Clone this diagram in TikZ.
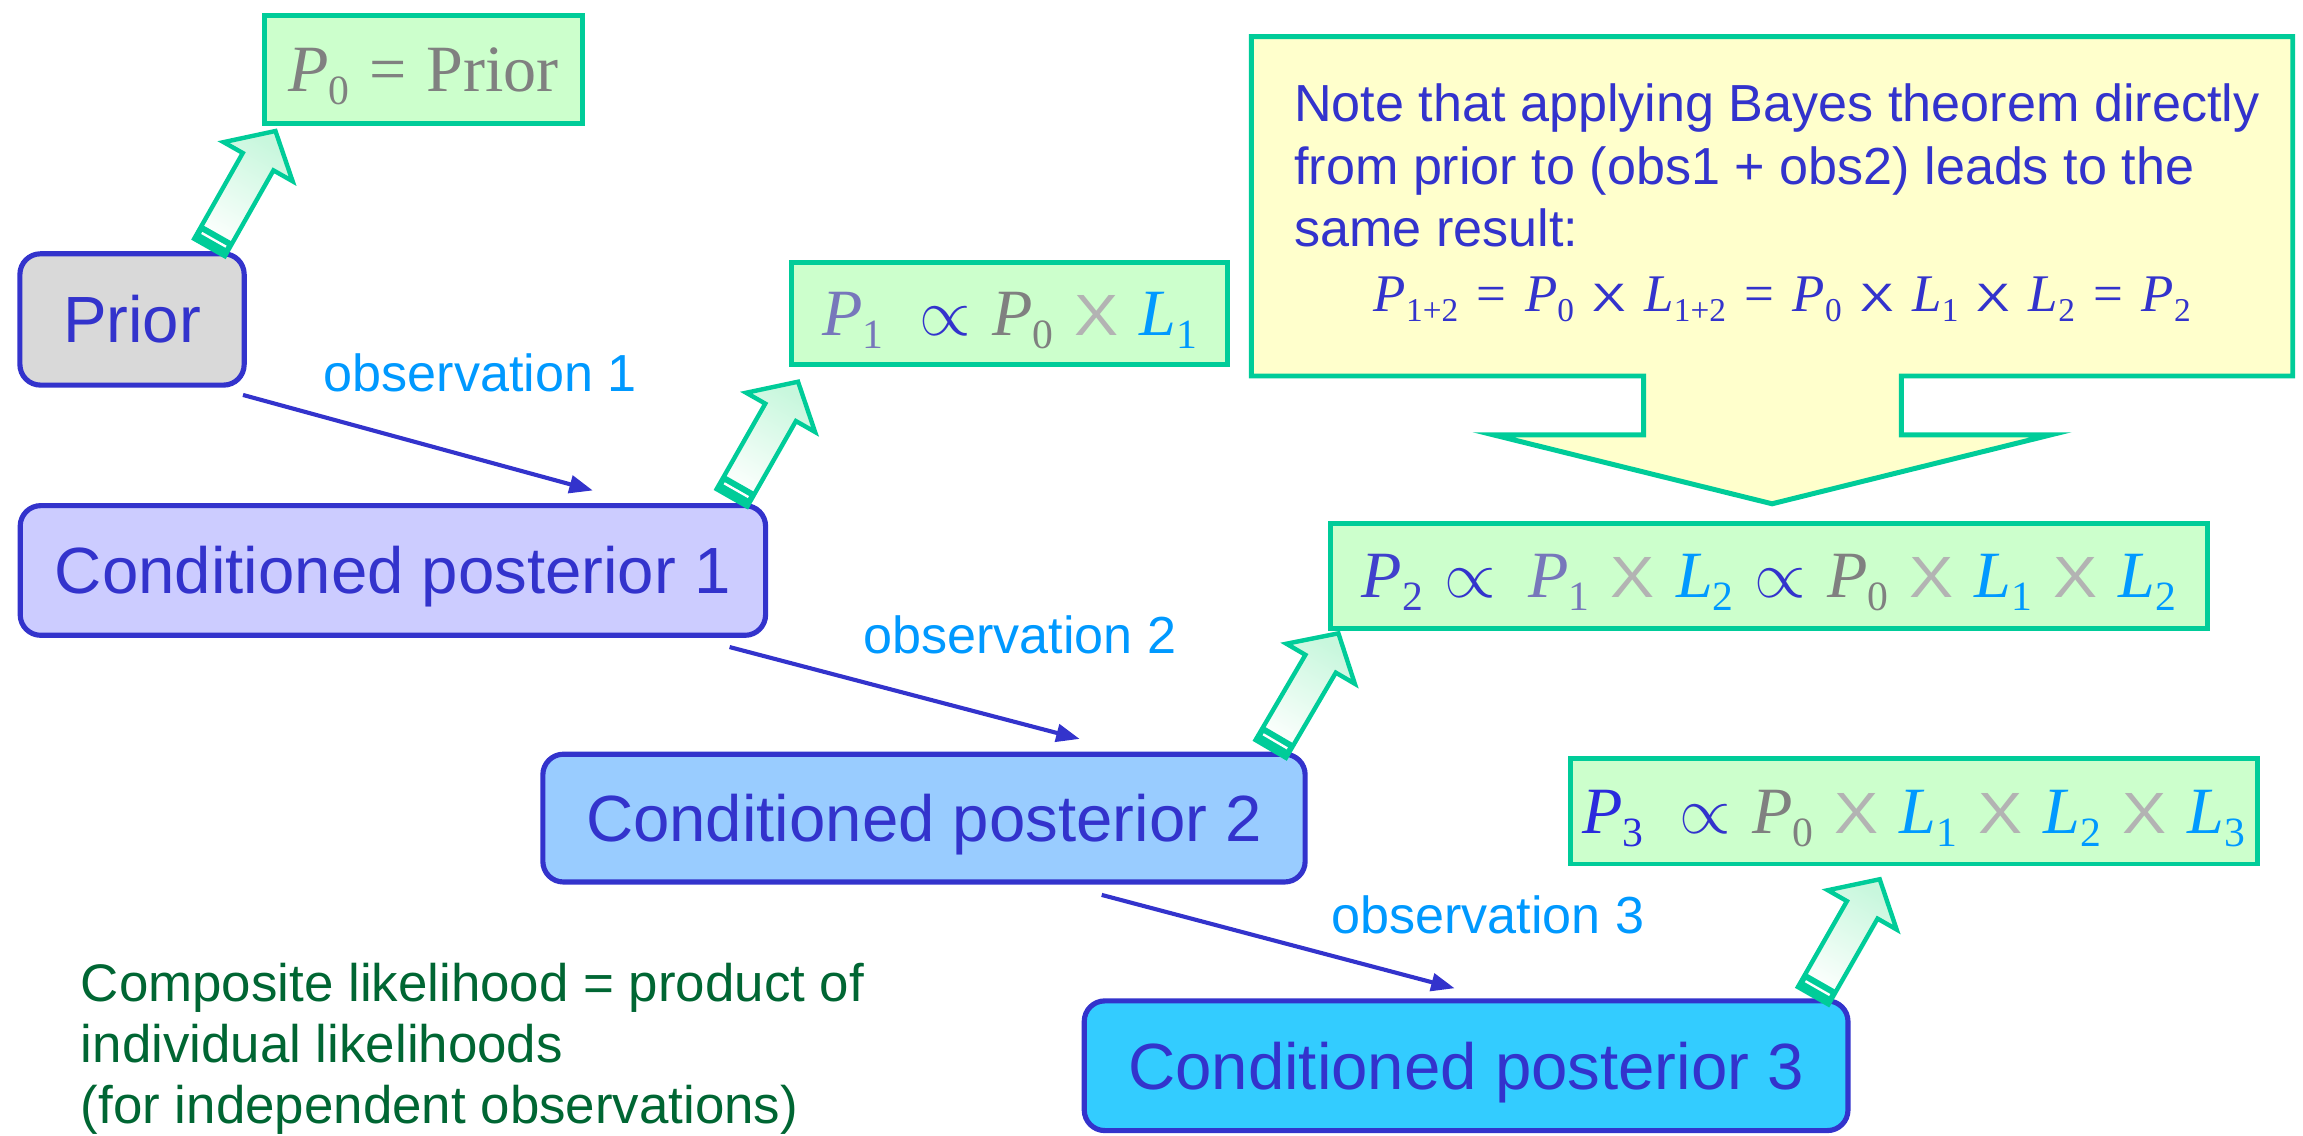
\RequirePackage{fix-cm}
\documentclass[tikz,border=0pt]{standalone}
\usepackage{fontspec}
\setmainfont{Liberation Sans}
\newfontfamily\tms{Liberation Serif}
\newfontfamily\ars{Liberation Sans}
\usepackage{graphicx}
\usetikzlibrary{calc,arrows.meta}

\definecolor{bord}{HTML}{3333CC}
\definecolor{grn}{HTML}{00CC99}
\definecolor{lgrn}{HTML}{CCFFCC}
\definecolor{yel}{HTML}{FFFFCC}
\definecolor{obs}{HTML}{0099FF}
\definecolor{dkg}{HTML}{006633}
\definecolor{gry}{HTML}{808080}
\definecolor{lgry}{HTML}{B3B3B3}
\definecolor{pmut}{HTML}{7777BB}
\definecolor{pblu}{HTML}{4040CC}
\definecolor{pblu3}{HTML}{2A2ADD}
\definecolor{fprior}{HTML}{D9D9D9}
\definecolor{fcp1}{HTML}{CCCCFF}
\definecolor{fcp2}{HTML}{99CCFF}
\definecolor{fcp3}{HTML}{33CCFF}
\definecolor{gtip}{HTML}{C8F7DD}

\newcommand\Sy[3]{\textcolor{#1}{{\tms\itshape #2}\raisebox{-0.2em}{\scalebox{0.63}{\tms #3}}}}
\newcommand\Xx[3]{\textcolor{#1}{\scalebox{#2}[#3]{\ars X}}}
\newcommand\Pp{\textcolor{bord}{$\propto$}}
\newcommand\gp{\hspace{0.32em}}
\newcommand\gf{\hspace{0.35em}}
\newcommand\Eq[1]{\textcolor{#1}{\tms =}}

\newcommand\garrow[2]{%
 \coordinate (gT) at #1; \coordinate (gA) at #2;
 \coordinate (gH) at ($(gA)!24pt!(gT)$);
 \coordinate (gS) at ($(gT)!11pt!(gA)$);
 \coordinate (gW) at ($(gT)!6pt!(gA)$);
 \path[garr] ($(gT)!12pt!90:(gA)$) -- ($(gH)!12pt!90:(gA)$) -- ($(gH)!27pt!90:(gA)$) -- (gA) -- ($(gH)!27pt!-90:(gA)$) -- ($(gH)!12pt!-90:(gA)$) -- ($(gT)!12pt!-90:(gA)$) -- cycle;
 \fill[grn] ($(gT)!12pt!90:(gA)$) -- ($(gS)!12pt!90:(gA)$) -- ($(gS)!12pt!-90:(gA)$) -- ($(gT)!12pt!-90:(gA)$) -- cycle;
 \draw[white, line width=1.6pt] ($(gW)!9.5pt!90:(gA)$) -- ($(gW)!9.5pt!-90:(gA)$);
}

\begin{document}
\begin{tikzpicture}[x=1pt,y=-1pt,
  gbox/.style={draw=grn, fill=lgrn, line width=3.4pt, inner sep=0pt, outer sep=0pt, font=\fontsize{45}{50}\selectfont, text height=29.8pt, text depth=0pt},
  bbox/.style={draw=bord, line width=3.5pt, rounded corners=14pt, inner sep=0pt, outer sep=0pt, text=bord, font=\fontsize{44.5}{50}\selectfont, text height=31.9pt, text depth=0pt},
  obslab/.style={anchor=base west, inner sep=0pt, text=obs, font=\fontsize{35.5}{40}\selectfont},
  notetext/.style={anchor=base west, inner sep=0pt, text=bord, font=\fontsize{35.5}{40}\selectfont},
  comptext/.style={anchor=base west, inner sep=0pt, text=dkg, font=\fontsize{36}{40}\selectfont},
  conn/.style={draw=bord, line width=2.8pt, -{Triangle[length=16pt,width=12pt]}},
  garr/.style={draw=grn, line width=3pt, top color=gtip, bottom color=white, shading angle=-30},
  callout/.style={draw=grn, fill=yel, line width=3.4pt},
]
\useasboundingbox (0,0) rectangle (1568,773);

% callout
\draw[callout] (852,25) -- (1561,25) -- (1561,256) -- (1294.5,256) -- (1294.5,296) -- (1396.5,296) -- (1206.5,343) -- (1016.5,296) -- (1119,296) -- (1119,256) -- (852,256) -- cycle;
\node[notetext] (n1) at (881,82.8) {Note that applying Bayes theorem directly};
\node[notetext] (n2) at (881,125.4) {from prior to (obs1 + obs2) leads to the};
\node[notetext] (n3) at (881,168) {same result:};
\node[anchor=base, inner sep=0pt, font=\fontsize{36}{40}\selectfont] (nf) at (1213.5,212)
 {\Sy{bord}{P}{1+2}\gf\Eq{bord}\gf\Sy{bord}{P}{0}\gf\Xx{bord}{0.95}{0.75}\gf\Sy{bord}{L}{1+2}\gf\Eq{bord}\gf\Sy{bord}{P}{0}\gf\Xx{bord}{0.95}{0.75}\gf\Sy{bord}{L}{1}\gf\Xx{bord}{0.95}{0.75}\gf\Sy{bord}{L}{2}\gf\Eq{bord}\gf\Sy{bord}{P}{2}};

% boxes
\node[bbox, fill=fprior, minimum width=152.7pt, minimum height=89.4pt] (prior) at (89.9,217.5) {Prior};
\node[bbox, fill=fcp1, minimum width=507.5pt, minimum height=88.3pt] (cp1) at (267.5,388.4) {Conditioned posterior 1};
\node[bbox, fill=fcp2, minimum width=519pt, minimum height=87pt] (cp2) at (629.1,557) {Conditioned posterior 2};
\node[bbox, fill=fcp3, minimum width=520pt, minimum height=88.3pt] (cp3) at (998.2,725.6) {Conditioned posterior 3};

\node[gbox, minimum width=216.5pt, minimum height=73.4pt] (p0) at (288.5,47.1)
 {\Sy{gry}{P}{0}\hspace{0.3em}\textcolor{gry}{\tms =\hspace{0.3em}Prior}};
\node[gbox, minimum width=296.7pt, minimum height=69.4pt] (p1) at (687.5,213.5)
 {\Sy{pmut}{P}{1}\hspace{0.55em}\Pp\gp\Sy{gry}{P}{0}\gp\Xx{lgry}{1}{0.88}\gp\Sy{obs}{L}{1}};
\node[gbox, minimum width=597.5pt, minimum height=71.6pt] (p2) at (1204.5,392)
 {\Sy{pblu}{P}{2}\gp\Pp\hspace{0.5em}\Sy{pmut}{P}{1}\gp\Xx{lgry}{1}{0.88}\gp\Sy{obs}{L}{2}\gp\Pp\gp\Sy{gry}{P}{0}\gp\Xx{lgry}{1}{0.88}\gp\Sy{obs}{L}{1}\gp\Xx{lgry}{1}{0.88}\gp\Sy{obs}{L}{2}};
\node[gbox, minimum width=468pt, minimum height=71.5pt] (p3) at (1303,552.5)
 {\Sy{pblu3}{P}{3}\hspace{0.55em}\Pp\gp\Sy{gry}{P}{0}\gp\Xx{lgry}{1}{0.88}\gp\Sy{obs}{L}{1}\gp\Xx{lgry}{1}{0.88}\gp\Sy{obs}{L}{2}\gp\Xx{lgry}{1}{0.88}\gp\Sy{obs}{L}{3}};

% green block arrows
\garrow{($(prior.north east)+(-23.6,-4.3)$)}{($(p0.south west)+(7.3,5.4)$)}
\garrow{($(cp1.north east)+(-22.9,-5.3)$)}{($(p1.south west)+(4.2,11.7)$)}
\garrow{($(cp2.north east)+(-23.4,-3.6)$)}{($(p2.south west)+(5.5,3.4)$)}
\garrow{($(cp3.north east)+(-23.7,-3.5)$)}{($(p3.south west)+(210.8,10.4)$)}

% connectors
\draw[conn] ($(prior.south east)+(-0.8,6.7)$) -- ($(cp1.north west)+(389.9,-10.3)$);
\draw[conn] ($(cp1.south east)+(-24.5,8)$) -- ($(cp2.north west)+(365.5,-10.4)$);
\draw[conn] ($(cp2.south west)+(380.5,8.8)$) -- ($(cp3.north west)+(252.2,-8.6)$);

\node[obslab] (o1) at (220.2,266.7) {observation 1};
\node[obslab] (o2) at (587.4,444.9) {observation 2};
\node[obslab] (o3) at (906.3,635.4) {observation 3};

\node[comptext] (c1) at (54.9,682) {Composite likelihood = product of};
\node[comptext] (c2) at (54.9,723.4) {individual likelihoods};
\node[comptext] (c3) at (54.9,764.8) {(for independent observations)};
\end{tikzpicture}
\end{document}
